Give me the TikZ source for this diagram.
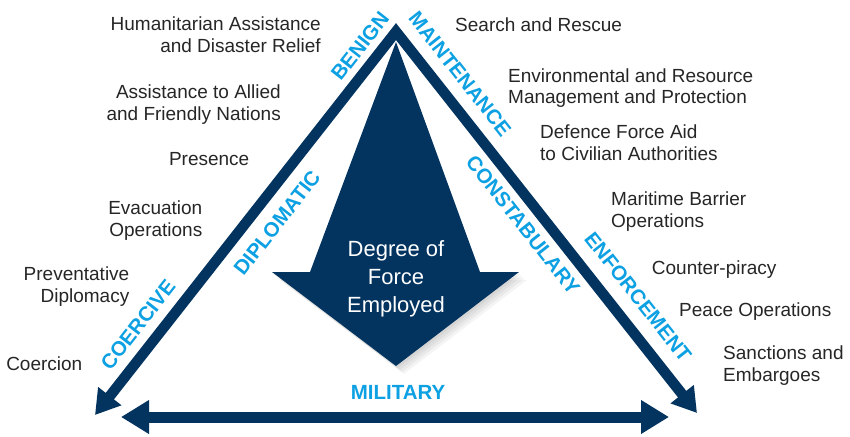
\documentclass[tikz,border=0pt]{standalone}
\usepackage{fontspec}
\setmainfont{Liberation Sans}
\usetikzlibrary{arrows.meta}
\definecolor{navy}{HTML}{033460}
\definecolor{skyblue}{HTML}{0DA0E2}
\definecolor{ink}{HTML}{262626}
\begin{document}
\begin{tikzpicture}[x=1pt,y=-1pt,
  item/.style={font=\fontsize{19}{21.8}\selectfont, text=ink, inner sep=0pt},
  leftitem/.style={item, align=right, anchor=base east},
  rightitem/.style={item, align=left, anchor=base west},
  band/.style={font=\fontsize{20.5}{24}\selectfont\bfseries, text=skyblue, inner sep=0pt},
  axis/.style={draw=navy, line width=10.5pt, line join=miter},
  headA/.style={{Triangle[length=24pt,width=28pt]}-{Triangle[length=24pt,width=28pt]}},
  headB/.style={{Triangle[length=28pt,width=32pt]}-{Triangle[length=28pt,width=32pt]}},
  shade/.style={fill=black, fill opacity=0.045},
]
\useasboundingbox (0,0) rectangle (850,436);

% frame of the triangle: two sides meeting at the apex, plus the base
\coordinate (apex) at (396,31.6);
\coordinate (tipL) at (95,415);
\coordinate (tipR) at (697,413);
\coordinate (botL) at (121,417);
\coordinate (botR) at (669,417);
\draw[axis, headA] (tipL) -- (apex) -- (tipR);
\draw[axis, line width=11pt, headB] (botL) -- (botR);

% soft shadow under the central arrowhead
\foreach \s in {2,4,6,8}
  \fill[shade, shift={(\s,\s)}] (272,272) -- (519,272) -- (396,366) -- cycle;

% central downward arrow
\fill[navy] (396,42) -- (480,272) -- (519,272) -- (396,366) -- (272,272) -- (310,272) -- cycle;
% multi-line nodes: the base anchor sits on the last line
\node[font=\fontsize{22}{28.3}\selectfont, text=white, align=center, anchor=base, inner sep=0pt]
  (force) at (396,312.7) {Degree of\\Force\\Employed};

% labels along the sides
\node[band, rotate=51.9] (benign) at (360,46) {BENIGN};
\node[band, rotate=51.9] (diplomatic) at (277,223) {DIPLOMATIC};
\node[band, rotate=51.9] (coercive) at (138,325) {COERCIVE};
\node[band, rotate=-51.7] (maintenance) at (460,74) {MAINTENANCE};
\node[band, rotate=-51.7] (constabulary) at (523,225) {CONSTABULARY};
\node[band, rotate=-51.7] (enforcement) at (638,297) {ENFORCEMENT};
\node[band] (military) at (398,392.5) {MILITARY};

% tasks on the left
\node[leftitem] (hadr) at (321,52.7) {Humanitarian Assistance\\and Disaster Relief};
\node[leftitem] (allied) at (281,120.7) {Assistance to Allied\\and Friendly Nations};
\node[leftitem] (presence) at (249.5,165) {Presence};
\node[leftitem] (evac) at (202.5,236) {Evacuation\\Operations};
\node[leftitem] (prevent) at (129.5,302.7) {Preventative\\Diplomacy};
\node[leftitem] (coercion) at (82.5,370) {Coercion};

% tasks on the right
\node[rightitem] (sar) at (455,32) {Search and Rescue};
\node[rightitem] (env) at (508,103.8) {Environmental and Resource\\Management and Protection};
\node[rightitem] (dfaca) at (540,160) {Defence Force Aid\\to Civilian Authorities};
\node[rightitem] (barrier) at (611,227.5) {Maritime Barrier\\Operations};
\node[rightitem] (piracy) at (651.7,274) {Counter-piracy};
\node[rightitem] (peace) at (679,316) {Peace Operations};
\node[rightitem] (sanctions) at (723,381.7) {Sanctions and\\Embargoes};
\end{tikzpicture}
\end{document}
